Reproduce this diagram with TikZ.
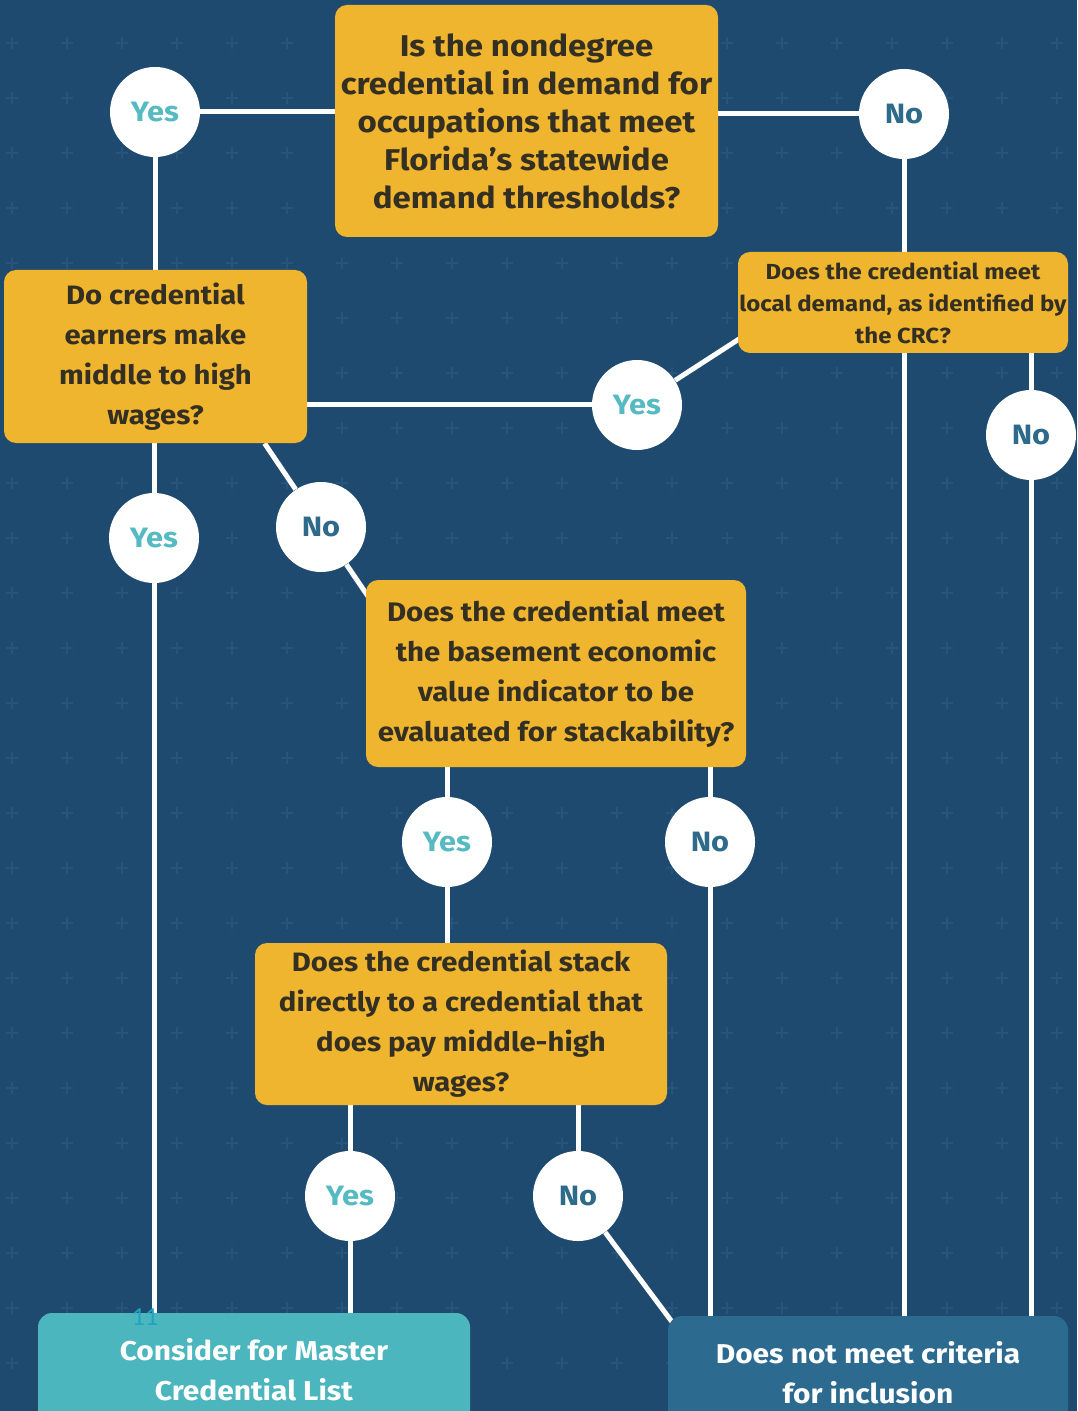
\documentclass[tikz,border=0pt]{standalone}
\usepackage{fontspec}
\setmainfont{Fira Sans}[FakeStretch=1.1]
\newfontfamily\pagefont{Carlito}
\usetikzlibrary{calc}
\definecolor{bgblue}{HTML}{1F4A6F}
\definecolor{gridplus}{HTML}{28537A}
\definecolor{qyellow}{HTML}{EFB52F}
\definecolor{qtext}{HTML}{332F22}
\definecolor{yesteal}{HTML}{55BAC2}
\definecolor{noblue}{HTML}{2E6A8A}
\definecolor{consteal}{HTML}{4BB6BE}
\definecolor{dnmblue}{HTML}{2C6B8F}
\definecolor{pagecyan}{HTML}{1FA3BF}
\pgfdeclarelayer{gridlayer}
\pgfdeclarelayer{linelayer}
\pgfsetlayers{gridlayer,linelayer,main}
\begin{document}
\begin{tikzpicture}[x=0.5pt,y=-0.5pt,
  qbox/.style={fill=qyellow, rounded corners=6pt, align=center, text=qtext, inner sep=0pt},
  ans/.style={circle, fill=white, minimum size=45pt, inner sep=0pt, font=\bfseries\fontsize{14}{14}\selectfont},
  yesc/.style={ans, text=yesteal},
  noc/.style={ans, text=noblue},
  endbox/.style={rounded corners=7pt, align=center, inner sep=0pt, font=\bfseries\fontsize{13.6}{20}\selectfont},
  link/.style={draw=white, line width=2.5pt}]
\useasboundingbox (0,0) rectangle (1077,1411);
\begin{scope}
\clip (0,0) rectangle (1077,1411);
% question boxes
\node[qbox, minimum width=191.5pt, minimum height=116pt, font=\bfseries\fontsize{15}{19}\selectfont] (q1) at (526.5,121)
  {Is the nondegree\\credential in demand for\\occupations that meet\\Florida's statewide\\demand thresholds?};
\node[qbox, minimum width=151.5pt, minimum height=86.5pt, font=\bfseries\fontsize{13.3}{20}\selectfont] (q2) at (155.5,356.5)
  {Do credential\\earners make\\middle to high\\wages?};
\node[qbox, minimum width=165pt, minimum height=50.5pt, font=\bfseries\fontsize{10.9}{16}\selectfont] (crc) at (903,302.5)
  {Does the credential meet\\local demand, as identified by\\the CRC?};
\node[qbox, minimum width=190pt, minimum height=93.5pt, font=\bfseries\fontsize{13.4}{20}\selectfont] (q3) at (556,673.5)
  {Does the credential meet\\the basement economic\\value indicator to be\\evaluated for stackability?};
\node[qbox, minimum width=206pt, minimum height=81pt, font=\bfseries\fontsize{13.3}{20}\selectfont] (q4) at (461,1024)
  {Does the credential stack\\directly to a credential that\\does pay middle-high\\wages?};
% end boxes
\node[endbox, fill=consteal, text=white, minimum width=216pt, minimum height=57pt] (cons) at (254,1370)
  {Consider for Master\\Credential List};
\node[endbox, fill=dnmblue, text=white, minimum width=200pt, minimum height=57pt] (dnm) at (868,1373)
  {Does not meet criteria\\for inclusion};
\node[font=\pagefont\fontsize{13}{13}\selectfont, text=pagecyan, inner sep=0pt] (pg) at (145,1317) {11};
% answer circles
\node[yesc] (y1) at (155,112) {Yes};
\node[noc]  (n1) at (904,114) {No};
\node[yesc] (y2) at (637,405) {Yes};
\node[noc]  (n2) at (1031,435) {No};
\node[yesc] (y3) at (154,538) {Yes};
\node[noc]  (n3) at (321,527) {No};
\node[yesc] (y4) at (447,842) {Yes};
\node[noc]  (n4) at (710,842) {No};
\node[yesc] (y5) at (350,1196) {Yes};
\node[noc]  (n5) at (578,1196) {No};
\coordinate (q2no) at ($(q2.south west)+(261,0)$);
\coordinate (q3in) at ($(q3.north west)+(6,22)$);
\coordinate (crcin) at ($(crc.south west)+(4,-16)$);
\coordinate (dnmin) at ($(dnm.north west)+(5,7)$);
\end{scope}
% connectors
\begin{pgfonlayer}{linelayer}
\draw[link] (y1) -- (y1 -| q1.west);
\draw[link] (n1) -- (n1 -| q1.east);
\draw[link] (y1) -- (y1 |- q2.north);
\draw[link] (n1) -- (n1 |- dnm.north);
\draw[link] (crcin) -- (y2);
\draw[link] (y2) -- (y2 -| q2.east);
\draw[link] (n2) -- (n2 |- crc.south);
\draw[link] (n2) -- (n2 |- dnm.north);
\draw[link] (y3) -- (y3 |- q2.south);
\draw[link] (y3) -- (y3 |- cons.north);
\draw[link] (q2no) -- (n3);
\draw[link] (n3) -- (q3in);
\draw[link] (y4) -- (y4 |- q3.south);
\draw[link] (y4) -- (y4 |- q4.north);
\draw[link] (n4) -- (n4 |- q3.south);
\draw[link] (n4) -- (n4 |- dnm.north);
\draw[link] (y5) -- (y5 |- q4.south);
\draw[link] (y5) -- (y5 |- cons.north);
\draw[link] (n5) -- (n5 |- q4.south);
\draw[link] (n5) -- (dnmin);
\end{pgfonlayer}
% background and grid
\begin{pgfonlayer}{gridlayer}
\fill[bgblue] (0,0) rectangle (1077,1411);
\foreach \gx in {12,67,...,1077} {
  \foreach \gy in {43,98,...,1411} {
    \draw[gridplus, line width=1pt] (\gx-6,\gy) -- (\gx+6,\gy) (\gx,\gy-6) -- (\gx,\gy+6);
  }
}
\end{pgfonlayer}
\end{tikzpicture}
\end{document}
